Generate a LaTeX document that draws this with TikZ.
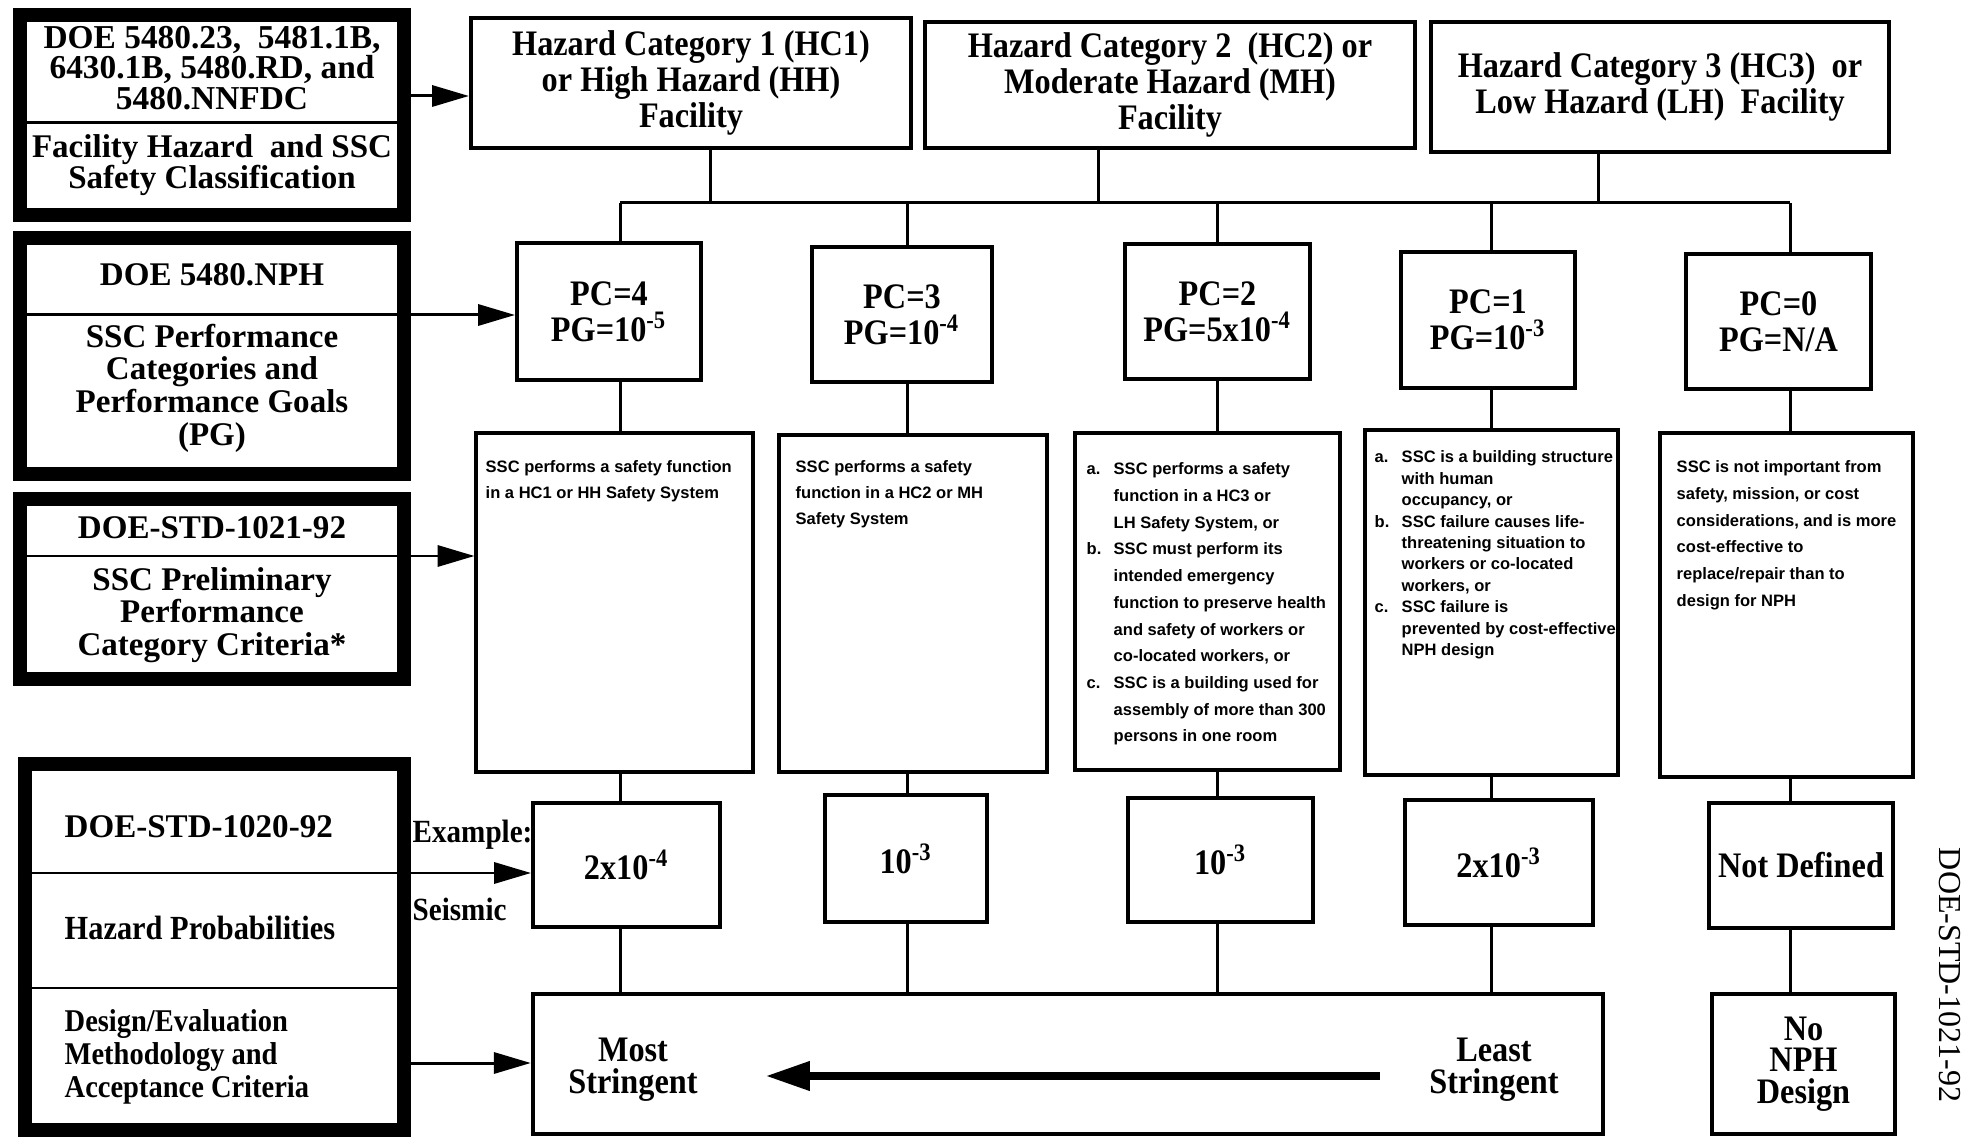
\documentclass[tikz,border=0pt]{standalone}
\usepackage{fontspec}
\setmainfont{Liberation Serif}
\setsansfont{Liberation Sans}
\newfontfamily\condfont[FakeStretch=0.9]{Liberation Serif}
\usetikzlibrary{arrows.meta}

\newcommand{\docfont}{\bfseries\fontsize{9.4}{9.3}\selectfont}
\newcommand{\catfont}{\condfont\bfseries\fontsize{10.2}{9}\selectfont}
\newcommand{\itm}[1]{\makebox[0.27cm][l]{#1}}
\newcommand{\cont}{\hspace*{0.27cm}}

\tikzset{
  docbox/.style={draw, line width=0.14cm, inner sep=0pt, minimum width=3.84cm},
  catbox/.style={draw, line width=1.1pt, inner sep=0pt, align=center, font=\catfont},
  pcbox/.style={catbox, font=\condfont\bfseries\fontsize{10.2}{10.2}\selectfont},
  notebox/.style={draw, line width=1.1pt, inner sep=0pt},
  notetext/.style={anchor=north west, inner sep=0pt, align=left,
    font=\sffamily\bfseries\fontsize{4.7}{#1}\selectfont},
  notetext/.default=7.5,
  doctext/.style={inner sep=0pt, align=center, font=\docfont},
  link/.style={line width=0.85pt},
  feed/.style={line width=0.85pt, -{Triangle[length=10.5pt,width=6pt]}},
  rank/.style={line width=2pt, -{Triangle[length=12.5pt,width=8pt]}},
}

\begin{document}
\begin{tikzpicture}[x=0.01cm, y=-0.01cm]
    % --- Page (pixel grid, y downwards) ---
    \useasboundingbox (0,0) rectangle (1985,1137);

    % --- Helper coordinates ---
    \coordinate (bus) at (0,203);
    \coordinate (tap1) at (710,203);
    \coordinate (tap2) at (1098,203);
    \coordinate (tap3) at (1598,203);
    \coordinate (col4) at (620,0);
    \coordinate (col3) at (907,0);
    \coordinate (col2) at (1217,0);
    \coordinate (col1) at (1491,0);
    \coordinate (col0) at (1790,0);
    \coordinate (r1) at (0,96);
    \coordinate (r2) at (0,315);
    \coordinate (r3) at (0,556);
    \coordinate (r4) at (0,873);
    \coordinate (r5) at (0,1063);

    % --- Source documents (left column) ---
    \node[docbox, minimum height=2.00cm] (doc1) at (212,115) {};
    \draw[link] (doc1.west |- 0,123) -- (doc1.east |- 0,123);
    \node[doctext, font=\bfseries\fontsize{9.5}{8.6}\selectfont] (doc1a) at (212,68)
        {DOE 5480.23,\ \ 5481.1B,\\6430.1B, 5480.RD, and\\5480.NNFDC};
    \node[doctext, font=\bfseries\fontsize{9.4}{9}\selectfont] (doc1b) at (212,165)
        {Facility Hazard\ \ and SSC\\Safety Classification};

    \node[docbox, minimum height=2.36cm] (doc2) at (212,356) {};
    \draw[link] (doc2.west |- 0,315) -- (doc2.east |- 0,315);
    \node[doctext] (doc2a) at (212,275) {DOE 5480.NPH};
    \node[doctext] (doc2b) at (212,388)
        {SSC Performance\\Categories and\\Performance Goals\\(PG)};

    \node[docbox, minimum height=1.80cm] (doc3) at (212,589) {};
    \draw[link] (doc3.west |- 0,556) -- (doc3.east |- 0,556);
    \node[doctext] (doc3a) at (212,528) {DOE-STD-1021-92};
    \node[doctext] (doc3b) at (212,615)
        {SSC Preliminary\\Performance\\Category Criteria*};

    \node[docbox, minimum width=3.79cm, minimum height=3.66cm] (doc4) at (214.5,947) {};
    \draw[link] (doc4.west |- 0,873) -- (doc4.east |- 0,873);
    \draw[link] (doc4.west |- 0,988) -- (doc4.east |- 0,988);
    \node[doctext, anchor=west] (doc4a) at (64,827) {DOE-STD-1020-92};
    \node[doctext, anchor=west, font=\condfont\bfseries\fontsize{9.6}{9.4}\selectfont]
        (doc4b) at (64,928) {Hazard Probabilities};
    \node[doctext, anchor=west, align=left, font=\condfont\bfseries\fontsize{9}{9.4}\selectfont]
        (doc4c) at (64,1057) {Design/Evaluation\\Methodology and\\Acceptance Criteria};

    % --- Hazard categories ---
    \node[catbox, minimum width=4.40cm, minimum height=1.30cm] (hc1) at (691,83)
        {Hazard Category 1 (HC1)\\or High Hazard (HH)\\Facility};
    \node[catbox, minimum width=4.90cm, minimum height=1.26cm] (hc2) at (1170,85)
        {Hazard Category 2\ \ (HC2) or\\Moderate Hazard (MH)\\Facility};
    \node[catbox, minimum width=4.58cm, minimum height=1.30cm] (hc3) at (1660,87)
        {Hazard Category 3 (HC3)\ \ or\\Low Hazard (LH)\ \ Facility};

    % --- Performance categories ---
    \node[pcbox, minimum width=1.84cm, minimum height=1.37cm] (pc4) at (609,311.5)
        {PC=4\\PG=10\textsuperscript{-5}};
    \node[pcbox, minimum width=1.80cm, minimum height=1.35cm] (pc3) at (902,314.5)
        {PC=3\\PG=10\textsuperscript{-4}};
    \node[pcbox, minimum width=1.85cm, minimum height=1.35cm] (pc2) at (1217.5,311.5)
        {PC=2\\PG=5x10\textsuperscript{-4}};
    \node[pcbox, minimum width=1.74cm, minimum height=1.36cm] (pc1) at (1488,320)
        {PC=1\\PG=10\textsuperscript{-3}};
    \node[pcbox, minimum width=1.85cm, minimum height=1.35cm] (pc0) at (1778.5,321.5)
        {PC=0\\PG=N/A};

    % --- Criteria ---
    \node[notebox, minimum width=2.76cm, minimum height=3.39cm] (cr4) at (614.5,602.5) {};
    \node[notebox, minimum width=2.68cm, minimum height=3.37cm] (cr3) at (913,603.5) {};
    \node[notebox, minimum width=2.65cm, minimum height=3.37cm] (cr2) at (1207.5,601.5) {};
    \node[notebox, minimum width=2.53cm, minimum height=3.45cm] (cr1) at (1491.5,602.5) {};
    \node[notebox, minimum width=2.53cm, minimum height=3.44cm] (cr0) at (1786.5,605) {};

    \node[notetext=7.4] (n4) at (485,460)
        {SSC performs a safety function\\in a HC1 or HH Safety System};
    \node[notetext=7.4] (n3) at (795,460)
        {SSC performs a safety\\function in a HC2 or MH\\Safety System};
    \node[notetext=7.6] (n2) at (1086,462)
        {\itm{a.}SSC performs a safety\\\cont function in a HC3 or\\\cont LH Safety System, or\\
         \itm{b.}SSC must perform its\\\cont intended emergency\\\cont function to preserve health\\
         \cont and safety of workers or\\\cont co-located workers, or\\
         \itm{c.}SSC is a building used for\\\cont assembly of more than 300\\\cont persons in one room};
    \node[notetext=6.1] (n1) at (1374,450)
        {\itm{a.}SSC is a building structure\\\cont with human\\\cont occupancy, or\\
         \itm{b.}SSC failure causes life-\\\cont threatening situation to\\\cont workers or co-located\\
         \cont workers, or\\
         \itm{c.}SSC failure is\\\cont prevented by cost-effective\\\cont NPH design};
    \node[notetext=7.6] (n0) at (1676,460)
        {SSC is not important from\\safety, mission, or cost\\considerations, and is more\\
         cost-effective to\\replace/repair than to\\design for NPH};

    % --- Hazard probabilities ---
    \node[catbox, minimum width=1.87cm, minimum height=1.24cm] (hz4) at (626.5,865)
        {2x10\textsuperscript{-4}};
    \node[catbox, minimum width=1.62cm, minimum height=1.27cm] (hz3) at (906,858.5)
        {10\textsuperscript{-3}};
    \node[catbox, minimum width=1.85cm, minimum height=1.24cm] (hz2) at (1220.5,860)
        {10\textsuperscript{-3}};
    \node[catbox, minimum width=1.88cm, minimum height=1.25cm] (hz1) at (1499,862.5)
        {2x10\textsuperscript{-3}};
    \node[catbox, minimum width=1.84cm, minimum height=1.25cm] (hz0) at (1801,865.5)
        {Not Defined};

    % --- Design methodology ---
    \node[catbox, minimum width=10.70cm, minimum height=1.40cm] (grade) at (1068,1064) {};
    \node[catbox, draw=none] (most) at (633,1070) {Most\\Stringent};
    \node[catbox, draw=none] (least) at (1494,1070) {Least\\Stringent};
    \coordinate (lo) at (1380,1076);
    \coordinate (hi) at (766,1076);
    \draw[rank] (lo) -- (hi);
    \node[catbox, minimum width=1.83cm, minimum height=1.40cm] (nonph) at (1803.5,1064)
        {No\\NPH\\Design};

    % --- Tree connectors ---
    \draw[link] (bus -| col4) -- (bus -| col0);
    \draw[link] (hc1.south -| tap1) -- (tap1);
    \draw[link] (hc2.south -| tap2) -- (tap2);
    \draw[link] (hc3.south -| tap3) -- (tap3);
    \foreach \n in {4,3,2,1,0} {
        \draw[link] (bus -| col\n) -- (pc\n.north -| col\n);
        \draw[link] (pc\n.south -| col\n) -- (cr\n.north -| col\n);
        \draw[link] (cr\n.south -| col\n) -- (hz\n.north -| col\n);
    }
    \foreach \n in {4,3,2,1}
        \draw[link] (hz\n.south -| col\n) -- (grade.north -| col\n);
    \draw[link] (hz0.south -| col0) -- (nonph.north -| col0);

    % --- Inputs from the documents ---
    \draw[feed] (doc1.east |- r1) -- (hc1.west |- r1);
    \draw[feed] (doc2.east |- r2) -- (pc4.west |- r2);
    \draw[feed] (doc3.east |- r3) -- (cr4.west |- r3);
    \draw[feed] (doc4.east |- r4) -- (hz4.west |- r4);
    \draw[feed] (doc4.east |- r5) -- (grade.west |- r5);
    \node[anchor=west, inner sep=0pt, font=\condfont\bfseries\fontsize{9.2}{9}\selectfont]
        (example) at (412,835) {Example:};
    \node[anchor=west, inner sep=0pt, font=\condfont\bfseries\fontsize{9.2}{9}\selectfont]
        (seismic) at (412,909) {Seismic};

    % --- Document number ---
    \node[rotate=-90, inner sep=0pt, font=\fontsize{9.1}{9.1}\selectfont] (stdid) at (1950,975)
        {DOE-STD-1021-92};
\end{tikzpicture}
\end{document}
